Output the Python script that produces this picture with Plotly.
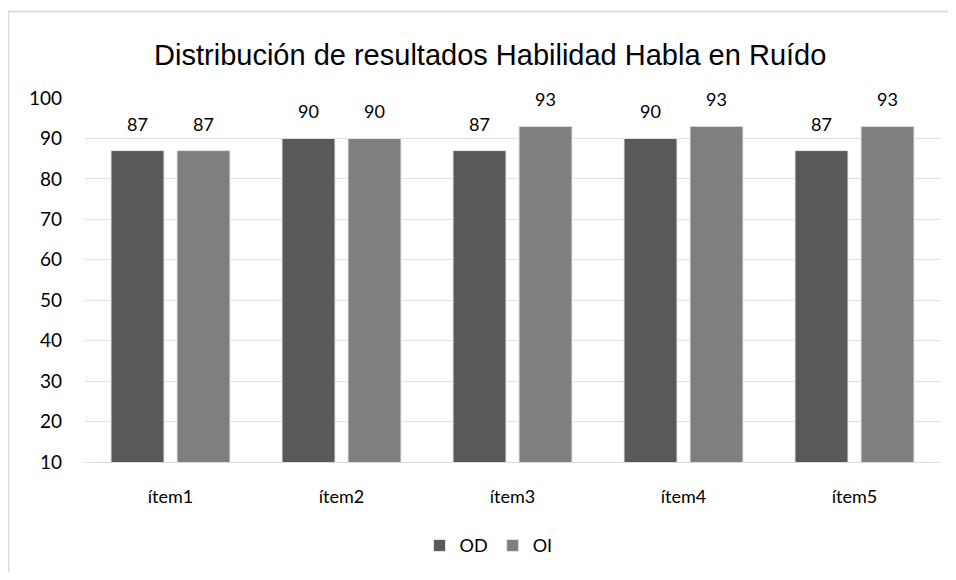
import plotly.graph_objects as go

categories = ["ítem1", "ítem2", "ítem3", "ítem4", "ítem5"]
od_values = [87, 90, 87, 90, 87]
oi_values = [87, 90, 93, 93, 93]
y_ticks = [10, 20, 30, 40, 50, 60, 70, 80, 90, 100]

TITLE = "Distribución de resultados Habilidad Habla en Ruído"
FONT = "Lato, 'Open Sans', sans-serif"
OD_COLOR = "#595959"
OI_COLOR = "#7f7f7f"

fig = go.Figure()
fig.add_trace(go.Bar(x=categories, y=od_values, name="OD",
                     marker={"color": OD_COLOR, "line": {"color": "#e6e6e6", "width": 1}}))
fig.add_trace(go.Bar(x=categories, y=oi_values, name="OI",
                     marker={"color": OI_COLOR, "line": {"color": "#e6e6e6", "width": 1}}))

# data labels above each bar
annotations = []
for shift, values in ((-33, od_values), (33, oi_values)):
    for cat, v in zip(categories, values):
        annotations.append({
            "x": cat, "y": v, "xref": "x", "yref": "y",
            "text": str(v), "showarrow": False,
            "xshift": shift, "yshift": 27,
            "font": {"size": 18, "color": "#000000", "family": FONT},
        })

# page body adds 8px margin, so figure is 940x564
fig.update_layout(
    width=940,
    height=564,
    margin={"l": 77, "r": 8, "t": 90, "b": 108},
    paper_bgcolor="white",
    plot_bgcolor="white",
    barmode="group",
    bargap=0.228,
    bargroupgap=0.197,
    title={"text": TITLE, "x": 0.513, "xanchor": "center", "y": 0.917, "yanchor": "middle",
           "font": {"size": 29, "color": "#000000", "family": "'Liberation Sans', Arial, sans-serif"}},
    font={"family": FONT, "size": 18, "color": "#000000"},
    xaxis={"showgrid": False, "showline": True, "linecolor": "#d9dde3", "linewidth": 1,
           "ticks": "", "tickfont": {"size": 18}, "ticklabelstandoff": 18},
    yaxis={"range": [10, 100], "tickvals": y_ticks, "showgrid": True,
           "gridcolor": "#dde1e7", "gridwidth": 1, "zeroline": False, "showline": False,
           "ticks": "", "tickfont": {"size": 19}, "ticklabelstandoff": 22},
    legend={"orientation": "h", "x": 0.472, "xanchor": "center", "y": -0.23, "yanchor": "middle",
            "font": {"size": 18}, "itemwidth": 30, "traceorder": "normal"},
    annotations=annotations,
    shapes=[{"type": "rect", "xref": "paper", "yref": "paper",
             "x0": -0.0895, "x1": 1.2, "y0": -0.6, "y1": 1.2377,
             "line": {"color": "#d9dde3", "width": 2}, "layer": "below"}],
)

fig.write_html("out.html")
